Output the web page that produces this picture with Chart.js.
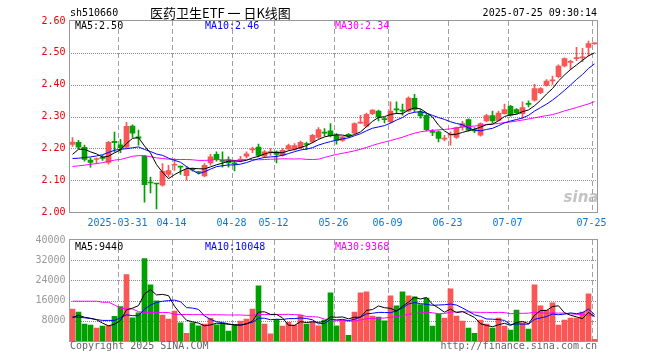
<!DOCTYPE html>
<html>
<head>
<meta charset="utf-8">
<script src="https://cdn.jsdelivr.net/npm/chart.js"></script>
<style>
  body { margin: 0; background: #fff; }
  #wrap { position: relative; width: 660px; height: 360px; }
  canvas { position: absolute; left: 0; top: 0; }
</style>
</head>
<body>
<div id="wrap">
  <canvas id="kline" width="660" height="360"></canvas>
  <canvas id="volume" width="660" height="360"></canvas>
</div>
<script>
// trading days shown (88 sessions)
const dates = [
  '2025-03-19','2025-03-20','2025-03-21','2025-03-24','2025-03-25','2025-03-26','2025-03-27','2025-03-28','2025-03-31',
  '2025-04-01','2025-04-02','2025-04-03','2025-04-07','2025-04-08','2025-04-09','2025-04-10','2025-04-11','2025-04-14',
  '2025-04-15','2025-04-16','2025-04-17','2025-04-18','2025-04-21','2025-04-22','2025-04-23','2025-04-24','2025-04-25',
  '2025-04-28','2025-04-29','2025-04-30',
  '2025-05-06','2025-05-07','2025-05-08','2025-05-09','2025-05-12','2025-05-13','2025-05-14','2025-05-15','2025-05-16',
  '2025-05-19','2025-05-20','2025-05-21','2025-05-22','2025-05-23','2025-05-26','2025-05-27','2025-05-28','2025-05-29','2025-05-30',
  '2025-06-03','2025-06-04','2025-06-05','2025-06-06','2025-06-09','2025-06-10','2025-06-11','2025-06-12','2025-06-13',
  '2025-06-16','2025-06-17','2025-06-18','2025-06-19','2025-06-20','2025-06-23','2025-06-24','2025-06-25','2025-06-26',
  '2025-06-27','2025-06-30',
  '2025-07-01','2025-07-02','2025-07-03','2025-07-04','2025-07-07','2025-07-08','2025-07-09','2025-07-10','2025-07-11',
  '2025-07-14','2025-07-15','2025-07-16','2025-07-17','2025-07-18','2025-07-21','2025-07-22','2025-07-23','2025-07-24','2025-07-25'
];
const tickDates = ['2025-03-31','2025-04-14','2025-04-28','2025-05-12','2025-05-26','2025-06-09','2025-06-23','2025-07-07','2025-07-25'];
const tickText  = ['2025-03-31','04-14','04-28','05-12','05-26','06-09','06-23','07-07','07-25'];
const priceTicks = [2.1, 2.2, 2.3, 2.4, 2.5];
const volumeTicks = [8000, 16000, 24000, 32000];

const opens = [
  2.212,2.219,2.203,2.163,2.165,2.172,2.156,2.222,2.211,2.204,
  2.270,2.236,2.175,2.093,2.089,2.084,2.118,2.147,2.143,2.114,
  2.135,2.126,2.113,2.154,2.181,2.161,2.165,2.153,2.163,2.175,
  2.195,2.204,2.175,2.187,2.189,2.178,2.197,2.197,2.202,2.214,
  2.220,2.234,2.250,2.255,2.241,2.225,2.244,2.248,2.279,2.270,
  2.309,2.317,2.292,2.283,2.324,2.319,2.317,2.357,2.315,2.304,
  2.253,2.252,2.229,2.241,2.234,2.267,2.290,2.258,2.241,2.286,
  2.303,2.288,2.309,2.332,2.322,2.309,2.340,2.351,2.375,2.398,
  2.412,2.425,2.459,2.470,2.482,2.484,2.517,2.528
];
const highs = [
  2.234,2.225,2.210,2.170,2.170,2.178,2.222,2.251,2.228,2.282,
  2.274,2.257,2.178,2.110,2.090,2.152,2.147,2.168,2.144,2.144,
  2.138,2.128,2.152,2.181,2.189,2.189,2.173,2.159,2.175,2.189,
  2.204,2.213,2.194,2.199,2.192,2.199,2.213,2.215,2.223,2.220,
  2.244,2.265,2.262,2.278,2.246,2.238,2.246,2.280,2.304,2.311,
  2.322,2.320,2.297,2.346,2.346,2.339,2.362,2.370,2.322,2.309,
  2.259,2.255,2.241,2.252,2.267,2.285,2.293,2.265,2.280,2.307,
  2.317,2.317,2.339,2.335,2.325,2.346,2.349,2.401,2.391,2.416,
  2.427,2.462,2.484,2.477,2.517,2.514,2.537,2.532
];
const lows = [
  2.206,2.199,2.160,2.141,2.152,2.162,2.150,2.189,2.186,2.199,
  2.234,2.210,2.031,2.060,2.010,2.081,2.110,2.131,2.118,2.100,
  2.128,2.120,2.110,2.147,2.160,2.141,2.141,2.129,2.157,2.171,
  2.186,2.173,2.171,2.178,2.154,2.175,2.194,2.194,2.199,2.196,
  2.217,2.231,2.238,2.236,2.213,2.222,2.234,2.246,2.278,2.267,
  2.306,2.286,2.280,2.280,2.309,2.304,2.314,2.314,2.295,2.255,
  2.240,2.220,2.223,2.210,2.231,2.257,2.254,2.249,2.238,2.283,
  2.280,2.286,2.307,2.301,2.309,2.294,2.330,2.348,2.372,2.395,
  2.401,2.421,2.456,2.448,2.475,2.472,2.490,2.527
];
const closes = [
  2.220,2.204,2.165,2.156,2.168,2.168,2.219,2.218,2.202,2.269,
  2.248,2.232,2.086,2.091,2.088,2.128,2.130,2.150,2.141,2.133,
  2.132,2.124,2.147,2.173,2.165,2.159,2.154,2.151,2.165,2.183,
  2.197,2.178,2.189,2.189,2.181,2.194,2.209,2.209,2.219,2.212,
  2.241,2.259,2.248,2.240,2.225,2.236,2.238,2.278,2.281,2.307,
  2.320,2.299,2.290,2.317,2.321,2.317,2.358,2.322,2.302,2.259,
  2.250,2.231,2.231,2.245,2.265,2.278,2.257,2.255,2.278,2.303,
  2.286,2.311,2.322,2.304,2.311,2.328,2.338,2.388,2.388,2.411,
  2.414,2.458,2.482,2.472,2.484,2.486,2.529,2.530
];
const volumes = [
  12680,11480,6680,6280,5080,5880,6150,9800,13600,26280,
  9200,11200,32680,22280,15880,10280,8680,11880,7200,3080,
  7200,6000,6680,8950,6400,6950,3880,6280,7880,8680,
  12680,21880,6680,2800,8550,5880,7350,6280,10280,6680,
  7600,6000,8280,19080,6000,8280,2280,11480,19080,19480,
  9880,9480,8000,17880,13880,19480,17880,17480,14400,16950,
  5880,10680,9080,20680,9880,7880,5080,3080,8280,6680,
  5080,9080,5880,4280,12280,7200,4680,22280,13880,12280,
  15080,6280,8280,9080,9080,11480,18680,680
];

// moving-average values before enough sessions are on screen
const ma5Head  = [2.181,2.197,2.197,2.189];
const ma10Head = [2.168,2.169,2.171,2.173,2.176,2.180,2.187,2.194,2.197];
const ma30Head = [2.143,2.145,2.147,2.150,2.152,2.155,2.159,2.163,2.165,2.170,
                  2.175,2.177,2.177,2.174,2.170,2.168,2.166,2.165,2.165,2.165,
                  2.164,2.162,2.162,2.163,2.165,2.164,2.163,2.162,2.162];
const volMa5Head  = [9200,10200,9400,9000];
const volMa10Head = [9600,9400,9200,8900,8500,8150,8150,8150,9200];
const volMa30Head = [15750,15750,15750,15750,15750,15350,15350,14300,12950,12700,
                     12700,11600,11300,11300,11300,11300,11300,10550,10500,10500,
                     10450,10450,10400,10400,10400,10350,10300,10300,10300];

const priceLegend = ['MA5:2.50', 'MA10:2.46', 'MA30:2.34'];
const volLegend   = ['MA5:9440', 'MA10:10048', 'MA30:9368'];

const UP = '#fa5656', DOWN = '#00a000';
const MONO = '"DejaVu Sans Mono", "Liberation Mono", monospace';
const barColor = closes.map((c, i) => c >= opens[i] ? UP : DOWN);

function movingAvg(vals, n, head) {
  return vals.map((v, i) => {
    if (i < n - 1) return head[i];
    let s = 0;
    for (let k = i - n + 1; k <= i; k++) s += vals[k];
    return s / n;
  });
}

// grid (dotted rows, dashed date columns) under the marks, frame and texts on top
function deco(gridValues, texts) {
  return {
    id: 'deco',
    afterDraw(chart) {
      const ctx = chart.ctx, a = chart.chartArea, y = chart.scales.y;
      const left = Math.round(a.left), right = Math.round(a.right);
      const top = Math.round(a.top), bottom = Math.round(a.bottom);
      const colW = (a.right - a.left) / dates.length;
      ctx.save();
      ctx.globalCompositeOperation = 'destination-over';
      ctx.fillStyle = '#8c8c8c';
      gridValues.forEach(v => {
        const py = Math.round(a.bottom - (v - y.min) / (y.max - y.min) * (a.bottom - a.top));
        for (let px = left + 1; px < right; px += 2) ctx.fillRect(px, py, 1, 1);
      });
      ctx.fillStyle = '#a0a0a0';
      tickDates.forEach(d => {
        const px = Math.round(a.left + dates.indexOf(d) * colW);
        for (let py = top; py < bottom; py += 8) ctx.fillRect(px, py, 1, Math.min(5, bottom - py));
      });
      ctx.restore();

      ctx.save();
      ctx.strokeStyle = '#999';
      ctx.lineWidth = 1;
      ctx.strokeRect(a.left, a.top - 0.5, a.right - a.left, a.bottom - a.top + 1);
      ctx.textBaseline = 'middle';
      texts.forEach(t => {
        ctx.font = t.font || ('10px ' + MONO);
        ctx.fillStyle = t.color || '#000';
        ctx.textAlign = t.align || 'left';
        ctx.fillText(t.text, t.x, t.y);
      });
      ctx.restore();
    }
  };
}

function xAxis(showLabels) {
  return {
    offset: true,
    grid: { display: false, drawTicks: false },
    border: { display: false },
    ticks: {
      display: showLabels, autoSkip: false, maxRotation: 0, minRotation: 0,
      padding: 5, labelOffset: -3, color: '#0a78d2',
      font: { family: MONO, size: 10 },
      callback: (v, i) => {
        const k = tickDates.indexOf(dates[i]);
        return k < 0 ? '' : tickText[k];
      }
    },
    afterFit: s => { s.height = showLabels ? 20 : 0; }
  };
}

function yAxis(min, max, step, color, fmt) {
  return {
    min, max,
    grid: { display: false, drawTicks: false },
    border: { display: false },
    ticks: { stepSize: step, padding: 4, color, font: { family: MONO, size: 10 }, callback: fmt },
    afterFit: s => { s.width = 69.5; }
  };
}

function maLine(label, data, color) {
  return { type: 'line', label, data, borderColor: color, borderWidth: 1,
           pointRadius: 0, fill: false, tension: 0, order: 0 };
}

const common = {
  responsive: false,
  animation: false,
  events: [],
  plugins: { legend: { display: false }, tooltip: { enabled: false } }
};

new Chart(document.getElementById('kline'), {
  type: 'bar',
  data: {
    labels: dates,
    datasets: [
      maLine('MA5', movingAvg(closes, 5, ma5Head), '#000'),
      maLine('MA10', movingAvg(closes, 10, ma10Head), '#0000ff'),
      maLine('MA30', movingAvg(closes, 30, ma30Head), '#ff00ff'),
      { label: 'body', data: opens.map((o, i) => [o, closes[i]]), backgroundColor: barColor,
        barThickness: 5, minBarLength: 1, grouped: false, order: 1 },
      { label: 'wick', data: lows.map((l, i) => [l, highs[i]]), backgroundColor: barColor,
        barThickness: 1, grouped: false, order: 2 }
    ]
  },
  options: Object.assign({}, common, {
    layout: { padding: { top: 21, right: 62.5, bottom: 128, left: 0 } },
    scales: {
      x: xAxis(true),
      y: yAxis(2.0, 2.6, 0.1, '#ee0000', v => v.toFixed(2))
    }
  }),
  plugins: [deco(priceTicks, [
    { text: 'sh510660', x: 70, y: 13 },
    { text: '医药卫生ETF 一 日K线图', x: 150, y: 13, font: '13px "Noto Sans CJK SC"' },
    { text: '2025-07-25 09:30:14', x: 597, y: 13, align: 'right' },
    { text: priceLegend[0], x: 75, y: 26, color: '#000' },
    { text: priceLegend[1], x: 205, y: 26, color: '#0000ff' },
    { text: priceLegend[2], x: 335, y: 26, color: '#ff00ff' },
    { text: 'sina', x: 581, y: 198, align: 'center', color: 'rgba(180,180,180,0.8)',
      font: 'italic bold 15px "DejaVu Sans"' }
  ])]
});

new Chart(document.getElementById('volume'), {
  type: 'bar',
  data: {
    labels: dates,
    datasets: [
      maLine('MA5', movingAvg(volumes, 5, volMa5Head), '#000'),
      maLine('MA10', movingAvg(volumes, 10, volMa10Head), '#0000ff'),
      maLine('MA30', movingAvg(volumes, 30, volMa30Head), '#ff00ff'),
      { label: 'vol', data: volumes, backgroundColor: barColor,
        barThickness: 5, grouped: false, order: 1 }
    ]
  },
  options: Object.assign({}, common, {
    layout: { padding: { top: 240, right: 62.5, bottom: 19, left: 0 } },
    scales: {
      x: xAxis(false),
      y: yAxis(0, 40000, 8000, '#999', v => v === 0 ? '' : String(v))
    }
  }),
  plugins: [deco(volumeTicks, [
    { text: volLegend[0], x: 75, y: 247, color: '#000' },
    { text: volLegend[1], x: 205, y: 247, color: '#0000ff' },
    { text: volLegend[2], x: 335, y: 247, color: '#ff00ff' },
    { text: 'Copyright 2025 SINA.COM', x: 70, y: 346, color: '#666' },
    { text: 'http://finance.sina.com.cn', x: 597, y: 346, align: 'right', color: '#666' }
  ])]
});
</script>
</body>
</html>
